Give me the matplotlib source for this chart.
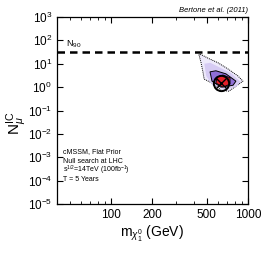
import numpy as np
import matplotlib
matplotlib.use("Agg")
import matplotlib.pyplot as plt

plt.rcParams['font.family'] = ['Liberation Sans', 'DejaVu Sans']
plt.rcParams['mathtext.fontset'] = 'custom'
plt.rcParams['mathtext.rm'] = 'Liberation Sans'
plt.rcParams['mathtext.it'] = 'Liberation Sans:italic'

# outer credible region (mass in GeV, N_mu)
outer_m = [438, 454, 470, 478, 565, 635, 726, 859, 920, 845, 714, 604, 519, 454]
outer_n = [24.6, 11, 4.1, 2.2, 1.35, 0.74, 0.67, 1.35, 1.8, 3.0, 6.0, 11, 16.5, 24.6]
# middle region
mid_m = [480, 495, 550, 680, 820, 880, 760, 620, 530]
mid_n = [10.0, 3.0, 1.2, 0.8, 1.05, 1.7, 3.8, 7.0, 11.0]
# inner region
inner_m = [528, 546, 635, 778, 817, 690, 583]
inner_n = [4.5, 1.8, 1.0, 1.2, 1.8, 3.7, 5.0]
# core region
core_m = [595, 583, 657, 740, 740, 657]
core_n = [2.7, 1.5, 1.0, 1.35, 2.5, 3.3]
best_m, best_n = 635, 1.5
n90 = 33
notes = ['cMSSM, Flat Prior', 'Null search at LHC',
         r's$^{1/2}$=14TeV (100fb$^{-1}$)', 'T = 5 Years']

fig = plt.figure(figsize=(2.66, 2.57), dpi=100)
ax = fig.add_axes([0.214, 0.206, 0.718, 0.728])

ax.fill(outer_m, outer_n, facecolor='#eeeafb', edgecolor='k', lw=0.7, ls=(0, (1, 1)))
ax.fill(mid_m, mid_n, facecolor='#d6cbf3', edgecolor='none')
ax.fill(inner_m, inner_n, facecolor='#8f6fd6', edgecolor='k', lw=0.7)
ax.fill(core_m, core_n, facecolor='#e4202a', edgecolor='k', lw=0.6)
ax.plot([best_m], [best_n], 'o', ms=11, mfc='none', mec='k', mew=1.4)
ax.plot([best_m], [best_n], 'x', ms=7, mec='k', mew=1.0)

ax.axhline(n90, color='k', lw=1.8, ls=(0, (3, 2)))
ax.text(47, 55, r'N$_{90}$', fontsize=6.5)

ax.set_xscale('log')
ax.set_yscale('log')
ax.set_xlim(40, 1000)
ax.set_ylim(1e-5, 1e3)
ax.set_xticks([100, 200, 500, 1000])
ax.set_xticklabels(['100', '200', '500', '1000'])
ax.set_yticks([10.0 ** k for k in range(-5, 4)])
ax.tick_params(which='both', direction='in', top=True, right=True, labelsize=8.5)
ax.tick_params(which='major', length=4, width=0.8)
ax.tick_params(which='minor', length=2, width=0.6)
for s in ax.spines.values():
    s.set_linewidth(0.9)

ax.set_xlabel(r'm$_{\chi_1^0}$ (GeV)', fontsize=10, labelpad=2)
ax.set_ylabel(r'N$_\mu^{\rm IC}$', fontsize=11)
ax.yaxis.set_label_coords(-0.145, 0.43)

for i, t in enumerate(notes):
    ax.text(0.03, 0.28 - i * 0.05, t, transform=ax.transAxes,
            fontsize=5.0, va='center')
ax.text(1.0, 1.015, 'Bertone et al. (2011)', transform=ax.transAxes,
        fontsize=5.5, style='italic', ha='right', va='bottom')

fig.savefig('out.png', dpi=100)
